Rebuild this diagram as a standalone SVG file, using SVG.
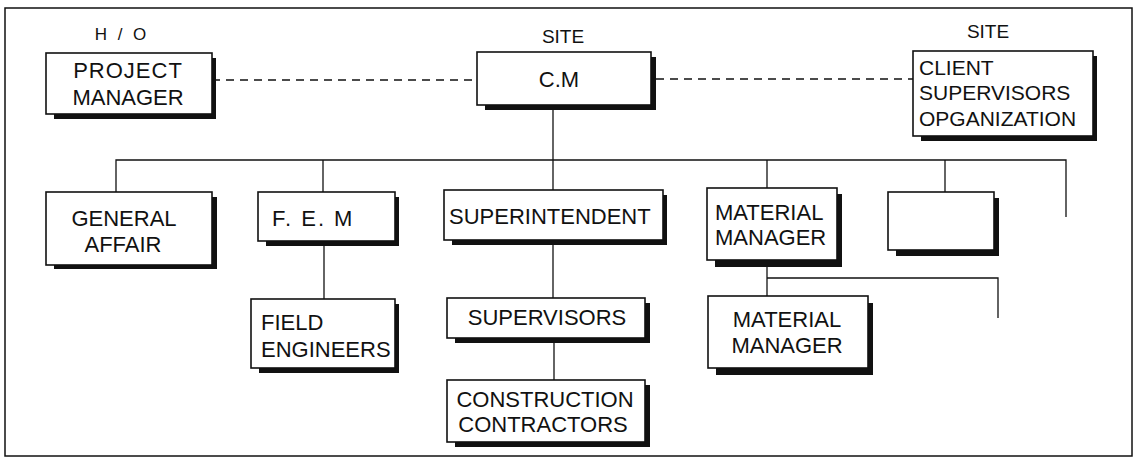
<svg xmlns="http://www.w3.org/2000/svg" width="1139" height="459" viewBox="0 0 1139 459">
<style>
  text { font-family: "Liberation Sans", Arial, sans-serif; font-size: 22px; fill: #111; }
  .hdr { font-size: 19px; }
  .cl { font-size: 21px; }
  .c { text-anchor: middle; }
  .box { fill: #fff; stroke: #111; stroke-width: 1.6; }
  .sh { fill: #111; }
  .ln { fill: none; stroke: #111; stroke-width: 1.3; }
  .dash { fill: none; stroke: #111; stroke-width: 1.3; stroke-dasharray: 8 6; }
</style>
<rect x="0" y="0" width="1139" height="459" fill="#fff"/>
<rect x="5" y="8" width="1127" height="448" fill="none" stroke="#111" stroke-width="1.5"/>

<text class="hdr c" x="122" y="40" style="font-size:17px" letter-spacing="3">H / O</text>
<text class="hdr c" x="563" y="43">SITE</text>
<text class="hdr c" x="988" y="38">SITE</text>

<g id="connectors">
  <line class="dash" x1="212" y1="80" x2="477" y2="80"/>
  <line class="dash" x1="656" y1="79" x2="913" y2="79"/>
  <line class="ln" x1="553" y1="109" x2="553" y2="160"/>
  <polyline class="ln" points="116,192 116,160 1066,160 1066,217"/>
  <line class="ln" x1="323" y1="160" x2="323" y2="192"/>
  <line class="ln" x1="553" y1="160" x2="553" y2="190"/>
  <line class="ln" x1="767" y1="160" x2="767" y2="188"/>
  <line class="ln" x1="945" y1="160" x2="945" y2="192"/>
  <line class="ln" x1="324" y1="245" x2="324" y2="299"/>
  <line class="ln" x1="553" y1="245" x2="553" y2="298"/>
  <line class="ln" x1="554" y1="343" x2="554" y2="380"/>
  <line class="ln" x1="767" y1="265" x2="767" y2="296"/>
  <polyline class="ln" points="767,278 998,278 998,318"/>
</g>

<g id="project-manager">
  <rect class="sh" x="54" y="58" width="162" height="61"/>
  <rect class="box" x="46" y="53" width="166" height="61"/>
  <text class="c" x="128" y="78" letter-spacing="1">PROJECT</text>
  <text class="c" x="128" y="105">MANAGER</text>
</g>

<g id="cm">
  <rect class="sh" x="485" y="57" width="171" height="53"/>
  <rect class="box" x="477" y="52" width="174" height="53"/>
  <text class="c" x="559" y="87">C.M</text>
</g>

<g id="client">
  <rect class="sh" x="921" y="56" width="176" height="85"/>
  <rect class="box" x="913" y="51" width="180" height="85"/>
  <text class="cl" x="919" y="75">CLIENT</text>
  <text class="cl" x="919" y="100">SUPERVISORS</text>
  <text class="cl" x="919" y="126">OPGANIZATION</text>
</g>

<g id="general-affair">
  <rect class="sh" x="54" y="197" width="163" height="72"/>
  <rect class="box" x="46" y="192" width="166" height="73"/>
  <text class="c" x="124" y="226">GENERAL</text>
  <text class="c" x="123" y="252">AFFAIR</text>
</g>

<g id="fem">
  <rect class="sh" x="266" y="197" width="133" height="49"/>
  <rect class="box" x="258" y="192" width="137" height="49"/>
  <text x="272" y="226" letter-spacing="2">F. E. M</text>
</g>

<g id="field-engineers">
  <rect class="sh" x="259" y="304" width="140" height="69"/>
  <rect class="box" x="251" y="299" width="144" height="69"/>
  <text x="261" y="330">FIELD</text>
  <text x="261" y="357">ENGINEERS</text>
</g>

<g id="superintendent">
  <rect class="sh" x="452" y="195" width="215" height="50"/>
  <rect class="box" x="444" y="190" width="219" height="50"/>
  <text x="449" y="224">SUPERINTENDENT</text>
</g>

<g id="supervisors">
  <rect class="sh" x="455" y="303" width="195" height="40"/>
  <rect class="box" x="447" y="298" width="198" height="40"/>
  <text class="c" x="547" y="325">SUPERVISORS</text>
</g>

<g id="construction-contractors">
  <rect class="sh" x="455" y="385" width="195" height="62"/>
  <rect class="box" x="447" y="380" width="198" height="62"/>
  <text class="c" x="545" y="407">CONSTRUCTION</text>
  <text class="c" x="543" y="432">CONTRACTORS</text>
</g>

<g id="material-manager-1">
  <rect class="sh" x="715" y="194" width="127" height="73"/>
  <rect class="box" x="707" y="188" width="130" height="72"/>
  <text x="715" y="220">MATERIAL</text>
  <text x="715" y="245">MANAGER</text>
</g>

<g id="material-manager-2">
  <rect class="sh" x="716" y="303" width="157" height="72"/>
  <rect class="box" x="708" y="296" width="160" height="72"/>
  <text class="c" x="787" y="327">MATERIAL</text>
  <text class="c" x="787" y="353">MANAGER</text>
</g>

<g id="empty-box">
  <rect class="sh" x="896" y="198" width="103" height="58"/>
  <rect class="box" x="888" y="192" width="106" height="58"/>
</g>
</svg>
